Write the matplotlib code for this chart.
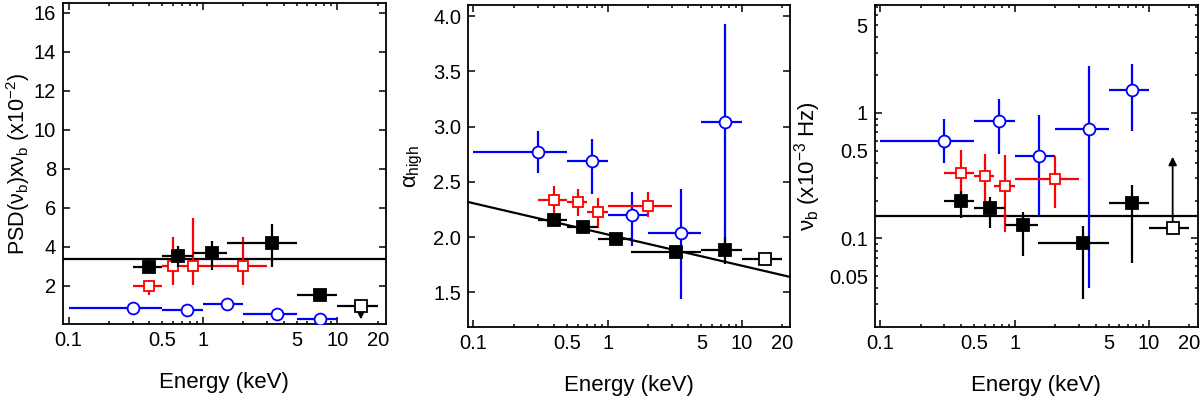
import numpy as np
import matplotlib
matplotlib.use('Agg')
import matplotlib.pyplot as plt

plt.rcParams['font.family'] = ['Liberation Sans', 'DejaVu Sans']
plt.rcParams['mathtext.fontset'] = 'custom'
plt.rcParams['mathtext.rm'] = 'Liberation Sans'
plt.rcParams['mathtext.it'] = 'Liberation Sans'
plt.rcParams['mathtext.bf'] = 'Liberation Sans:bold'

# energy bands (keV)
black_e = [0.40, 0.65, 1.16, 3.25, 7.5]
black_lo = [0.3, 0.5, 0.85, 1.5, 5.0]
black_hi = [0.5, 0.85, 1.5, 5.0, 10.0]
open_e = [15.0]
open_lo = [10.0]
open_hi = [20.0]
red_e = [0.40, 0.60, 0.85, 2.0]
red_lo = [0.3, 0.5, 0.7, 1.0]
red_hi = [0.5, 0.7, 1.0, 3.0]
blue_e = [0.30, 0.76, 1.52, 3.55, 7.5]
blue_lo = [0.1, 0.5, 1.0, 2.0, 5.0]
blue_hi = [0.5, 1.0, 2.0, 5.0, 10.0]

# PSD(nu_b) x nu_b  (x1e-2)
psd_black = [2.95, 3.53, 3.67, 4.18, 1.55]
psd_black_lo = [2.69, 2.98, 2.80, 2.98, 1.45]
psd_black_hi = [3.41, 4.06, 4.30, 5.16, 1.65]
psd_open = [0.97]          # upper limit
psd_open_arrow = [0.28]
psd_red = [2.0, 3.02, 3.0, 3.0]
psd_red_lo = [1.55, 2.04, 2.04, 2.04]
psd_red_hi = [2.29, 4.53, 5.5, 4.5]
psd_blue = [0.87, 0.75, 1.06, 0.54, 0.31]
psd_line = 3.37

# alpha_high
alpha_black = [2.16, 2.09, 1.985, 1.87, 1.88]
alpha_black_lo = [2.12, 2.06, 1.95, 1.84, 1.76]
alpha_black_hi = [2.20, 2.12, 2.02, 1.90, 2.00]
alpha_open = [1.80]
alpha_red = [2.34, 2.315, 2.225, 2.285]
alpha_red_lo = [2.22, 2.19, 2.085, 2.18]
alpha_red_hi = [2.46, 2.44, 2.355, 2.405]
alpha_blue = [2.77, 2.69, 2.20, 2.04, 3.04]
alpha_blue_lo = [2.58, 2.39, 1.92, 1.44, 1.82]
alpha_blue_hi = [2.96, 2.89, 2.41, 2.44, 3.93]
alpha_line_e = [0.09, 23.0]
alpha_line = [2.32, 1.64]

# nu_b (x1e-3 Hz)
nub_black = [0.20, 0.175, 0.128, 0.0914, 0.192]
nub_black_lo = [0.145, 0.12, 0.072, 0.033, 0.064]
nub_black_hi = [0.24, 0.215, 0.163, 0.126, 0.266]
nub_open = [0.12]          # lower limit
nub_open_arrow = [0.447]
nub_red = [0.333, 0.313, 0.261, 0.295]
nub_red_lo = [0.20, 0.19, 0.113, 0.174]
nub_red_hi = [0.51, 0.47, 0.46, 0.45]
nub_blue = [0.595, 0.863, 0.455, 0.746, 1.52]
nub_blue_lo = [0.396, 0.47, 0.153, 0.040, 0.715]
nub_blue_hi = [0.90, 1.28, 0.96, 2.35, 2.43]
nub_line = 0.15

x_minor = [0.2, 0.3, 0.4, 0.5, 0.6, 0.7, 0.8, 0.9,
           2, 3, 4, 5, 6, 7, 8, 9, 20]
x_minor_labels = ['0.5' if v == 0.5 else '5' if v == 5 else '20' if v == 20 else ''
                  for v in x_minor]


def errs(c, lo, hi):
    c = np.array(c)
    return [c - np.array(lo), np.array(hi) - c]


def points(ax, e, lo, hi, y, ylo=None, yhi=None, color='k', marker='s',
           filled=False, ms=7, z=3):
    yerr = None if ylo is None else errs(y, ylo, yhi)
    ax.errorbar(e, y, xerr=errs(e, lo, hi), yerr=yerr, fmt=marker, color=color,
                mfc=color if filled else 'white', mec=color, mew=1.3, ms=ms,
                elinewidth=1.6, capsize=0, zorder=z)


def arrow(ax, x, y0, y1):
    ax.annotate('', xy=(x, y1), xytext=(x, y0),
                arrowprops=dict(arrowstyle='-|>', color='k', lw=1.3,
                                mutation_scale=12, shrinkA=0, shrinkB=0),
                zorder=3)


def style(ax):
    ax.set_xscale('log')
    ax.set_xlim(0.091, 23)
    ax.set_xticks([0.1, 1, 10], labels=['0.1', '1', '10'])
    ax.set_xticks(x_minor, labels=x_minor_labels, minor=True)
    ax.tick_params(which='both', direction='in', top=True, right=True,
                   labelsize=14.5, width=1.1, pad=5)
    ax.tick_params(which='major', length=5)
    ax.tick_params(which='minor', length=2.5)
    for s in ax.spines.values():
        s.set_linewidth(1.3)
    ax.set_xlabel('Energy (keV)', fontsize=16, labelpad=16)


def main():
    fig = plt.figure(figsize=(12, 3.96), dpi=100)
    ax1 = fig.add_axes([0.0525, 0.182, 0.269, 0.810])
    ax2 = fig.add_axes([0.390, 0.175, 0.2686, 0.812])
    ax3 = fig.add_axes([0.729, 0.175, 0.269, 0.812])

    # panel 1: PSD x nu_b
    ax1.axhline(psd_line, color='k', lw=1.6, zorder=2)
    points(ax1, blue_e, blue_lo, blue_hi, psd_blue, color='blue', marker='o', ms=8.5)
    points(ax1, red_e, red_lo, red_hi, psd_red, psd_red_lo, psd_red_hi, color='red', ms=7.5)
    points(ax1, black_e, black_lo, black_hi, psd_black, psd_black_lo, psd_black_hi,
           filled=True, ms=8, z=4)
    points(ax1, open_e, open_lo, open_hi, psd_open, ms=8, z=4)
    arrow(ax1, open_e[0], psd_open[0], psd_open_arrow[0])
    style(ax1)
    ax1.set_ylim(0.05, 16.5)
    ax1.set_yticks([2, 4, 6, 8, 10, 12, 14, 16])
    ax1.set_ylabel(r'PSD($\nu_{\rm b}$)x$\nu_{\rm b}$ (x10$^{-2}$)', fontsize=15.5, labelpad=1)

    # panel 2: alpha_high
    ax2.plot(alpha_line_e, alpha_line, color='k', lw=1.6, zorder=5)
    points(ax2, blue_e, blue_lo, blue_hi, alpha_blue, alpha_blue_lo, alpha_blue_hi,
           color='blue', marker='o', ms=8.5)
    points(ax2, red_e, red_lo, red_hi, alpha_red, alpha_red_lo, alpha_red_hi, color='red', ms=7.5)
    points(ax2, black_e, black_lo, black_hi, alpha_black, alpha_black_lo, alpha_black_hi,
           filled=True, ms=8, z=4)
    points(ax2, open_e, open_lo, open_hi, alpha_open, ms=8, z=4)
    style(ax2)
    ax2.set_ylim(1.19, 4.1)
    ax2.set_yticks([1.5, 2.0, 2.5, 3.0, 3.5, 4.0], labels=['1.5', '2.0', '2.5', '3.0', '3.5', '4.0'])
    ax2.set_ylabel(r'$\alpha_{\rm high}$', fontsize=16, labelpad=6)

    # panel 3: nu_b
    ax3.axhline(nub_line, color='k', lw=1.6, zorder=2)
    points(ax3, blue_e, blue_lo, blue_hi, nub_blue, nub_blue_lo, nub_blue_hi,
           color='blue', marker='o', ms=8.5)
    points(ax3, red_e, red_lo, red_hi, nub_red, nub_red_lo, nub_red_hi, color='red', ms=7.5)
    points(ax3, black_e, black_lo, black_hi, nub_black, nub_black_lo, nub_black_hi,
           filled=True, ms=8, z=4)
    points(ax3, open_e, open_lo, open_hi, nub_open, ms=8, z=4)
    arrow(ax3, open_e[0], nub_open[0], nub_open_arrow[0])
    style(ax3)
    ax3.set_yscale('log')
    ax3.set_ylim(0.0198, 7.2)
    ax3.set_yticks([0.1, 1], labels=['0.1', '1'])
    y_minor = [0.03, 0.04, 0.05, 0.06, 0.07, 0.08, 0.09,
               0.2, 0.3, 0.4, 0.5, 0.6, 0.7, 0.8, 0.9,
               2, 3, 4, 5, 6, 7]
    ax3.set_yticks(y_minor, labels=['0.05' if v == 0.05 else '0.5' if v == 0.5 else '5' if v == 5 else ''
                                    for v in y_minor], minor=True)
    ax3.tick_params(which='both', labelsize=14.5)
    ax3.set_ylabel(r'$\nu_{\rm b}$ (x10$^{-3}$ Hz)', fontsize=16, labelpad=4)

    fig.savefig('out.png', dpi=100)


if __name__ == '__main__':
    main()
